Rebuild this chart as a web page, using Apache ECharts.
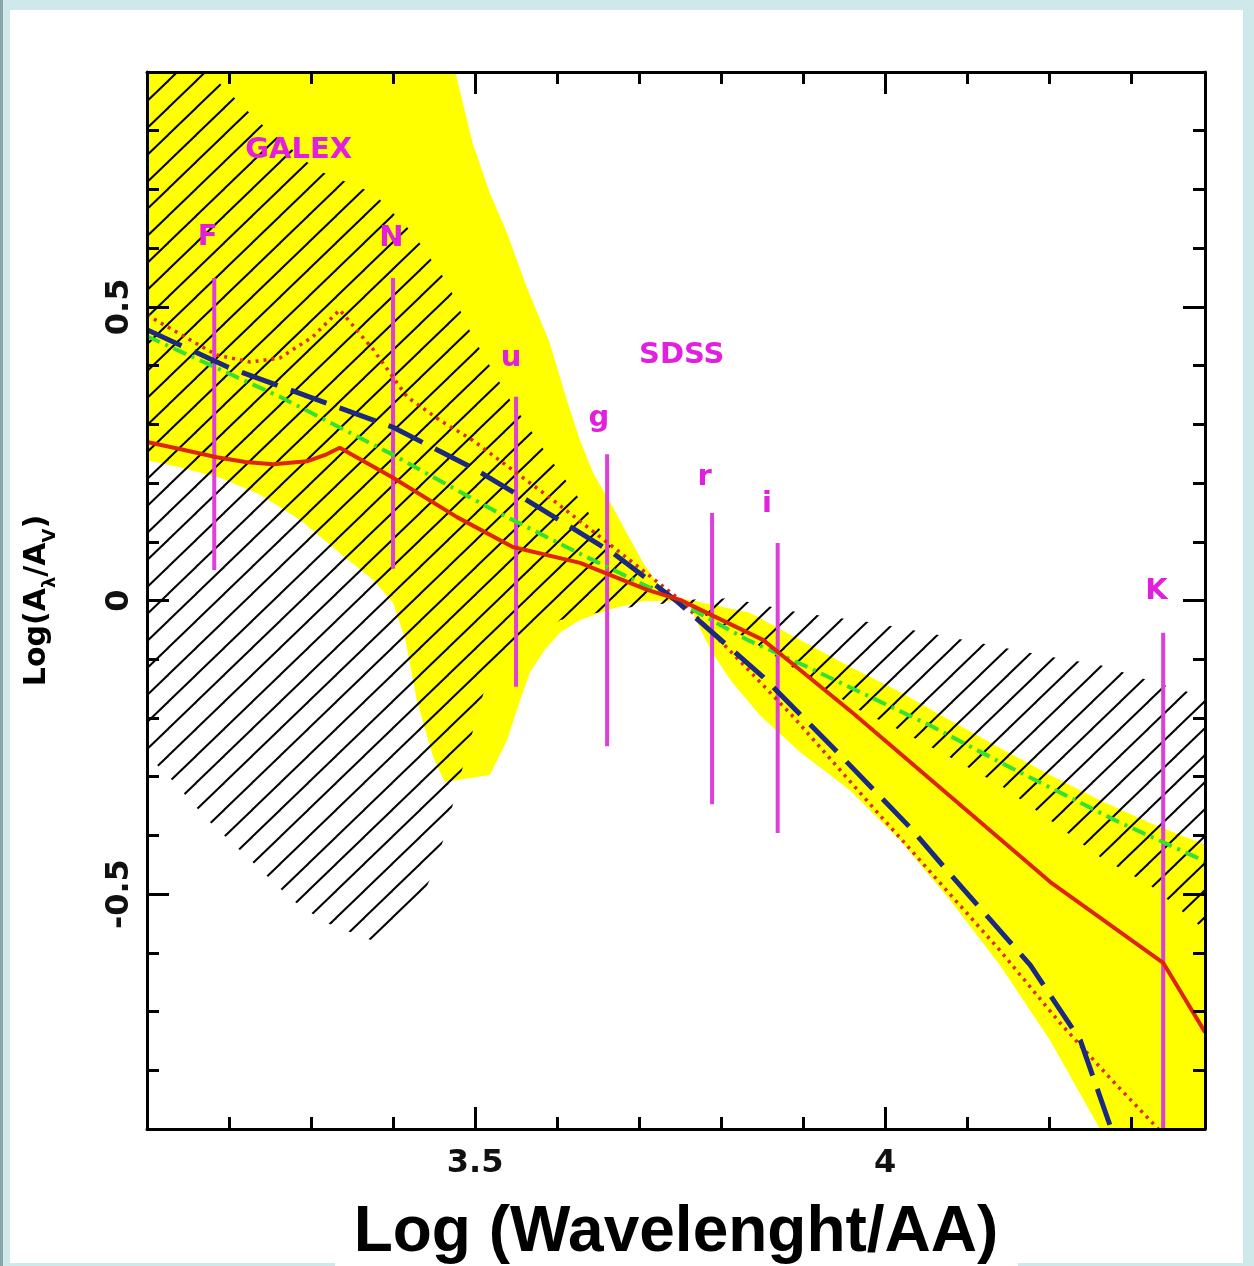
<!DOCTYPE html>
<html><head><meta charset="utf-8">
<script src="https://cdn.jsdelivr.net/npm/echarts@6/dist/echarts.min.js"></script>
<style>
html,body{margin:0;padding:0;}
body{width:1254px;height:1266px;background:#cfe8ea;position:relative;overflow:hidden;}
#edge{position:absolute;left:0;top:0;width:3px;height:1266px;background:#8aa5a8;}
#paper{position:absolute;left:10px;top:10px;width:1233px;height:1253px;background:#fff;}
#paper2{position:absolute;left:335px;top:1250px;width:683px;height:16px;background:#fff;}
#chart{position:absolute;left:0;top:0;width:1254px;height:1266px;}
</style></head><body>
<div id="edge"></div><div id="paper"></div><div id="paper2"></div><div id="chart"></div>
<script>
// ---------------- data ----------------
const xMin = 3.1, xMax = 4.39;
const yMin = -0.9, yMax = 0.9;
const xTickValues = [3.5, 4];
const yTickValues = [-0.5, 0, 0.5];

// yellow envelope (polygon vertices, data units)
const yellowBand = [[3.100,0.900],[3.476,0.900],[3.497,0.779],[3.518,0.694],[3.539,0.626],[3.563,0.534],[3.591,0.439],[3.612,0.341],[3.628,0.273],[3.644,0.217],[3.668,0.159],[3.685,0.115],[3.705,0.064],[3.722,0.030],[3.741,0.006],[3.762,0.001],[3.835,-0.021],[3.896,-0.067],[3.957,-0.113],[4.018,-0.156],[4.079,-0.204],[4.140,-0.251],[4.201,-0.297],[4.262,-0.340],[4.323,-0.379],[4.390,-0.416],[4.390,-0.900],[4.262,-0.900],[4.201,-0.749],[4.140,-0.621],[4.079,-0.510],[4.018,-0.408],[3.957,-0.323],[3.896,-0.258],[3.847,-0.195],[3.811,-0.135],[3.789,-0.088],[3.774,-0.047],[3.762,-0.009],[3.738,-0.001],[3.705,-0.001],[3.665,-0.015],[3.628,-0.033],[3.604,-0.054],[3.585,-0.084],[3.567,-0.122],[3.555,-0.170],[3.539,-0.238],[3.518,-0.297],[3.463,-0.309],[3.449,-0.267],[3.429,-0.170],[3.415,-0.067],[3.400,-0.004],[3.376,0.035],[3.335,0.081],[3.287,0.137],[3.238,0.180],[3.189,0.209],[3.140,0.227],[3.100,0.239]];

// hatched envelope (polygon vertices, data units)
const hatchBand = [[3.100,0.900],[3.165,0.900],[3.185,0.886],[3.234,0.818],[3.307,0.733],[3.376,0.694],[3.424,0.626],[3.466,0.541],[3.497,0.449],[3.543,0.341],[3.588,0.248],[3.628,0.171],[3.677,0.069],[3.719,0.021],[3.750,0.001],[3.811,0.004],[3.896,-0.021],[3.982,-0.037],[4.067,-0.059],[4.140,-0.079],[4.201,-0.096],[4.262,-0.110],[4.335,-0.142],[4.390,-0.164],[4.390,-0.561],[4.323,-0.485],[4.262,-0.437],[4.201,-0.374],[4.140,-0.314],[4.079,-0.267],[4.018,-0.221],[3.969,-0.187],[3.896,-0.122],[3.835,-0.067],[3.774,-0.020],[3.750,-0.003],[3.701,-0.009],[3.652,-0.020],[3.604,-0.033],[3.567,-0.067],[3.530,-0.101],[3.515,-0.135],[3.502,-0.198],[3.490,-0.260],[3.478,-0.318],[3.466,-0.386],[3.451,-0.454],[3.427,-0.536],[3.390,-0.587],[3.363,-0.573],[3.317,-0.548],[3.277,-0.510],[3.226,-0.442],[3.174,-0.374],[3.128,-0.302],[3.100,-0.263]];

const redSolid = [[3.100,0.270],[3.140,0.258],[3.185,0.244],[3.220,0.236],[3.254,0.232],[3.295,0.237],[3.319,0.249],[3.335,0.260],[3.400,0.209],[3.478,0.142],[3.546,0.091],[3.628,0.064],[3.710,0.018],[3.750,0.001],[3.851,-0.067],[3.896,-0.118],[3.961,-0.192],[4.085,-0.340],[4.201,-0.479],[4.339,-0.617],[4.390,-0.735]];

const redDotted = [[3.100,0.486],[3.185,0.418],[3.226,0.406],[3.262,0.413],[3.302,0.449],[3.335,0.495],[3.376,0.427],[3.417,0.347],[3.457,0.307],[3.497,0.273],[3.595,0.171],[3.693,0.064],[3.750,0.001],[3.814,-0.090],[3.888,-0.198],[3.985,-0.352],[4.055,-0.462],[4.140,-0.596],[4.213,-0.719],[4.274,-0.813],[4.333,-0.900]];

const blueDashed = [[3.100,0.461],[3.201,0.396],[3.400,0.295],[3.502,0.222],[3.563,0.171],[3.668,0.081],[3.744,0.001],[3.851,-0.130],[3.936,-0.250],[4.030,-0.386],[4.075,-0.459],[4.177,-0.621],[4.238,-0.749],[4.274,-0.893]];

const greenDashDot = [[3.100,0.450],[3.262,0.347],[3.400,0.248],[3.522,0.154],[3.636,0.074],[3.744,0.001],[3.832,-0.067],[3.905,-0.113],[4.058,-0.215],[4.152,-0.284],[4.283,-0.376],[4.390,-0.444]];

// filter bands (vertical bars)
const filterNames  = ['F','N','u','g','r','i','K'];
const filterX      = [3.182, 3.400, 3.550, 3.661, 3.789, 3.869, 4.339];
const filterLow    = [0.052, 0.054, -0.147, -0.248, -0.347, -0.396, -0.900];
const filterHigh   = [0.549, 0.549, 0.347, 0.249, 0.149, 0.098, -0.055];
const filterLabelX = [3.174, 3.398, 3.544, 3.651, 3.780, 3.856, 4.331];
const filterLabelY = [0.619, 0.617, 0.413, 0.310, 0.210, 0.163, 0.016];

const surveyNames = ['GALEX', 'SDSS'];
const surveyX = [3.285, 3.752];
const surveyY = [0.767, 0.418];

// ---------------- styling helpers ----------------
const tile = document.createElement('canvas');
tile.width = 28; tile.height = 27;
(function(){
  const c = tile.getContext('2d');
  c.strokeStyle = '#000'; c.lineWidth = 2;
  [-28, 0, 28].forEach(function(dx){
    c.beginPath();
    c.moveTo(dx - 2, 27 + 2 * 27 / 28);
    c.lineTo(dx + 30, -2 * 27 / 28);
    c.stroke();
  });
})();

const MAGENTA_LINE = '#dc3fda';
const MAGENTA_TEXT = '#e21fdf';

function polygonSeries(points, style) {
  return {
    type: 'custom', coordinateSystem: 'cartesian2d', xAxisIndex: 0, yAxisIndex: 0,
    data: points, silent: true, clip: true, animation: false,
    renderItem: function (params, api) {
      if (params.dataIndex !== 0) return null;
      return { type: 'polygon', shape: { points: points.map(function (p) { return api.coord(p); }) }, style: style };
    }
  };
}

function lineSeries(data, color, width, type, extra) {
  return Object.assign({
    type: 'line', data: data, xAxisIndex: 0, yAxisIndex: 0,
    showSymbol: false, symbol: 'none', silent: true, animation: false, smooth: false,
    lineStyle: { color: color, width: width, type: type }
  }, extra || {});
}

function textSeries(names, xs, ys, size) {
  return {
    type: 'custom', coordinateSystem: 'cartesian2d', xAxisIndex: 0, yAxisIndex: 0,
    data: xs.map(function (x, i) { return [x, ys[i]]; }), silent: true, animation: false,
    renderItem: function (params, api) {
      const p = api.coord([api.value(0), api.value(1)]);
      return { type: 'text', x: p[0], y: p[1], style: {
        text: names[params.dataIndex], fill: MAGENTA_TEXT,
        font: 'bold ' + size + 'px "DejaVu Sans"', align: 'center', verticalAlign: 'middle' } };
    }
  };
}

const lineStyleAxis = { color: '#000', width: 3 };
function xAx(pos, showLine, tickLen, custom, extra) {
  const a = {
    type: 'value', position: pos, min: xMin, max: xMax, z: 10,
    splitLine: { show: false },
    axisLine: { show: showLine, onZero: false, lineStyle: lineStyleAxis },
    axisTick: { show: true, inside: true, length: tickLen, lineStyle: lineStyleAxis },
    axisLabel: { show: false }
  };
  if (custom) a.axisTick.customValues = custom; else a.interval = 0.1;
  return Object.assign(a, extra || {});
}
function yAx(pos, showLine, tickLen, custom, extra) {
  const a = {
    type: 'value', position: pos, min: yMin, max: yMax, z: 10,
    splitLine: { show: false },
    axisLine: { show: showLine, onZero: false, lineStyle: lineStyleAxis },
    axisTick: { show: true, inside: true, length: tickLen, lineStyle: lineStyleAxis },
    axisLabel: { show: false }
  };
  if (custom) a.axisTick.customValues = custom; else a.interval = 0.1;
  return Object.assign(a, extra || {});
}

const chart = echarts.init(document.getElementById('chart'), null, { renderer: 'canvas' });
chart.setOption({
  animation: false,
  backgroundColor: 'transparent',
  grid: { left: 147, right: 49, top: 72, bottom: 137, containLabel: false, outerBoundsMode: 'none' },
  xAxis: [
    xAx('bottom', true, 12, null, {
      axisLabel: { show: true, customValues: xTickValues, margin: 19, fontFamily: 'DejaVu Sans', fontWeight: 'bold', fontSize: 32, color: '#111' },
      name: 'Log (Wavelenght/AA)', nameLocation: 'middle', nameGap: 72,
      nameTextStyle: { fontFamily: 'Liberation Sans', fontWeight: 'bold', fontSize: 64, color: '#000' }
    }),
    xAx('top', true, 12, null),
    xAx('bottom', false, 22, xTickValues),
    xAx('top', false, 22, xTickValues)
  ],
  yAxis: [
    yAx('left', true, 12, null, {
      axisLabel: { show: true, customValues: yTickValues, rotate: 90, margin: 11, fontFamily: 'DejaVu Sans', fontWeight: 'bold', fontSize: 32, color: '#111' },
      name: 'Log(A{s|λ}/A{s|V})', nameLocation: 'middle', nameRotate: 90, nameGap: 88,
      nameTextStyle: { fontFamily: 'DejaVu Sans', fontWeight: 'bold', fontSize: 30, color: '#000', lineHeight: 44,
        rich: { s: { fontFamily: 'DejaVu Sans', fontWeight: 'bold', fontSize: 18, lineHeight: 18, verticalAlign: 'bottom', color: '#000' } } }
    }),
    yAx('right', true, 12, null),
    yAx('left', false, 22, yTickValues),
    yAx('right', false, 22, yTickValues)
  ],
  series: [
    polygonSeries(yellowBand, { fill: '#ffff00' }),
    polygonSeries(hatchBand, { fill: { image: tile, repeat: 'repeat' } }),
    lineSeries(redDotted, '#de2a10', 3.5, [3, 5]),
    lineSeries(greenDashDot, '#35e035', 4, [14, 6, 3, 6]),
    lineSeries(blueDashed, '#1b2a80', 5, [38, 14]),
    lineSeries(redSolid, '#e0240a', 4, 'solid'),
    {
      type: 'custom', coordinateSystem: 'cartesian2d', xAxisIndex: 0, yAxisIndex: 0,
      data: filterX.map(function (x, i) { return [x, filterLow[i], filterHigh[i]]; }),
      silent: true, clip: true, animation: false,
      renderItem: function (params, api) {
        const a = api.coord([api.value(0), api.value(1)]);
        const b = api.coord([api.value(0), api.value(2)]);
        return { type: 'line', shape: { x1: a[0], y1: a[1], x2: b[0], y2: b[1] }, style: { stroke: MAGENTA_LINE, lineWidth: 4 } };
      }
    },
    textSeries(filterNames, filterLabelX, filterLabelY, 29),
    textSeries(surveyNames, surveyX, surveyY, 29)
  ]
});
</script></body></html>
